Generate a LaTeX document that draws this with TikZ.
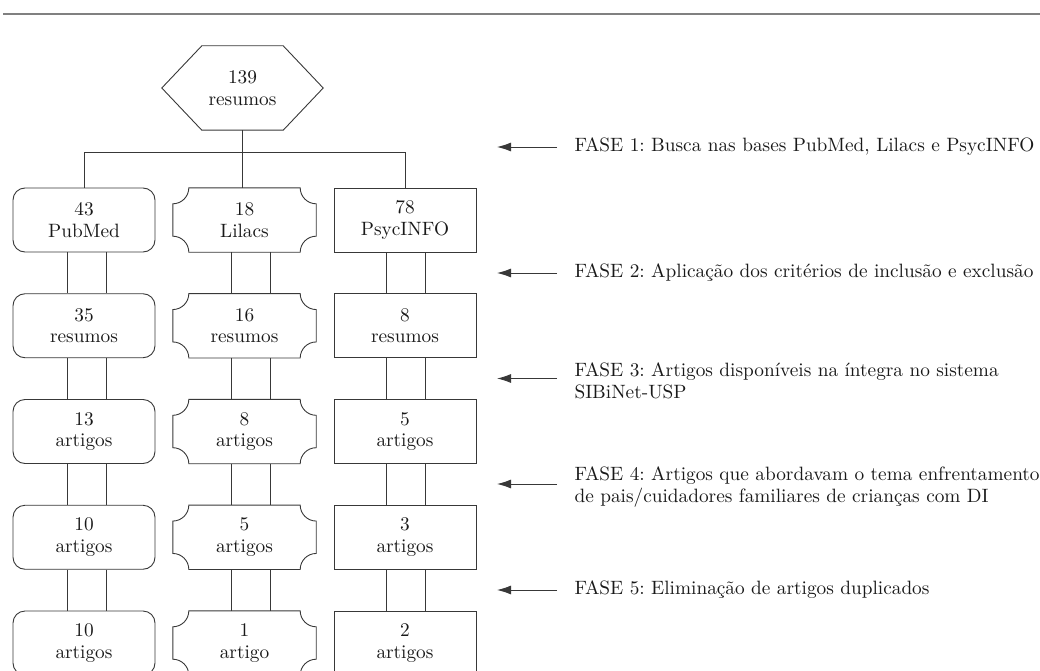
\documentclass[tikz,border=0pt]{standalone}
\usepackage{fontspec}
\setmainfont{lmroman10-regular.otf}
\frenchspacing
\usetikzlibrary{arrows.meta,calc}
\newcommand\notchborder[1]{%
  \draw[link] ([xshift=16pt]#1.north west) -- ([xshift=-16pt]#1.north east)
    arc[start angle=180,end angle=270,radius=16pt] -- ([yshift=16pt]#1.south east)
    arc[start angle=90,end angle=180,radius=16pt] -- ([xshift=16pt]#1.south west)
    arc[start angle=0,end angle=90,radius=16pt] -- ([yshift=-16pt]#1.north west)
    arc[start angle=270,end angle=360,radius=16pt] -- cycle;}
\begin{document}
\begin{tikzpicture}[x=1pt,y=-1pt,
  link/.style={draw=black!78, line width=0.9pt},
  every node/.style={font=\fontsize{19.3}{21.5}\selectfont\frenchspacing, align=center, text=black!90},
  box/.style={minimum width=142pt, minimum height=64pt, inner sep=0pt},
  roundbox/.style={box, link, rounded corners=12pt},
  plainbox/.style={box, link},
  notchbox/.style={box, minimum width=143pt},
  hexnode/.style={minimum width=161pt, minimum height=84pt, inner sep=0pt},
  phasearrow/.style={link, -{Latex[length=14pt,width=9pt]}},
  phase/.style={anchor=west, align=left}
]
\useasboundingbox (0,0) rectangle (1040,671);
\clip (0,0) rectangle (1040,671);
% top rule
\coordinate (r1) at (3,14);
\coordinate (r2) at (1040,14);
\draw[draw=black!50, line width=2pt] (r1) -- (r2);

% hexagon
\node[hexnode] (hex) at (242.5,88) {139\\resumos};
\draw[link] (hex.west) -- ([xshift=40pt]hex.north west) -- ([xshift=-40pt]hex.north east)
  -- (hex.east) -- ([xshift=-40pt]hex.south east) -- ([xshift=40pt]hex.south west) -- cycle;

% PubMed column
\node[roundbox] (p1) at (84,220) {43\\PubMed};
\node[roundbox] (p2) at (84,325.75) {35\\resumos};
\node[roundbox] (p3) at (84,431.5) {13\\artigos};
\node[roundbox] (p4) at (84,537.25) {10\\artigos};
\node[roundbox] (p5) at (84,643) {10\\artigos};
% Lilacs column
\node[notchbox] (l1) at (244.5,220) {18\\Lilacs};
\node[notchbox] (l2) at (244.5,325.75) {16\\resumos};
\node[notchbox] (l3) at (244.5,431.5) {8\\artigos};
\node[notchbox] (l4) at (244.5,537.25) {5\\artigos};
\node[notchbox] (l5) at (244.5,643) {1\\artigo};
\foreach \n in {l1,l2,l3,l4,l5} {\notchborder{\n}}
% PsycINFO column
\node[plainbox] (y1) at (405,220) {78\\PsycINFO};
\node[plainbox] (y2) at (405,325.75) {8\\resumos};
\node[plainbox] (y3) at (405,431.5) {5\\artigos};
\node[plainbox] (y4) at (405,537.25) {3\\artigos};
\node[plainbox] (y5) at (405,643) {2\\artigos};

% tree connectors
\coordinate (hb) at (0,152);
\draw[link] (hex.south) -- (hex.south |- l1.north);
\draw[link] (p1.north) -- (p1.north |- hb) -| (y1.north);

% paired connectors
\foreach \a/\b in {1/2,2/3,3/4,4/5} {
  \draw[link] (p\a.south -| 67,0) -- (p\b.north -| 67,0);
  \draw[link] (p\a.south -| 106,0) -- (p\b.north -| 106,0);
  \draw[link] (l\a.south -| 231,0) -- (l\b.north -| 231,0);
  \draw[link] (l\a.south -| 270,0) -- (l\b.north -| 270,0);
  \draw[link] (y\a.south -| 386,0) -- (y\b.north -| 386,0);
  \draw[link] (y\a.south -| 425,0) -- (y\b.north -| 425,0);
}

% phases
\node[phase] (f1) at (571,147) {FASE 1: Busca nas bases PubMed, Lilacs e PsycINFO};
\node[phase] (f2) at (571,273) {FASE 2: Aplicação dos critérios de inclusão e exclusão};
\node[phase] (f3) at (571,381) {FASE 3: Artigos disponíveis na íntegra no sistema\\SIBiNet-USP};
\node[phase] (f4) at (571,487) {FASE 4: Artigos que abordavam o tema enfrentamento\\de pais/cuidadores familiares de crianças com DI};
\node[phase] (f5) at (571,590) {FASE 5: Eliminação de artigos duplicados};
\foreach \i/\yy in {1/147,2/273,3/378.5,4/484,5/590} {
  \coordinate (as\i) at (557,\yy);
  \coordinate (ae\i) at (497,\yy);
  \draw[phasearrow] (as\i) -- (ae\i);
}
\end{tikzpicture}
\end{document}
